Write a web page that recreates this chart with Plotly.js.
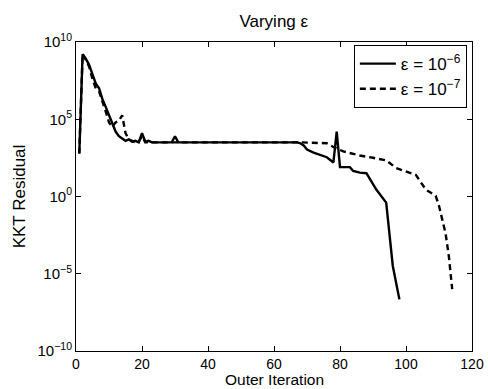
<!DOCTYPE html>
<html>
<head>
<meta charset="utf-8">
<script src="https://cdn.plot.ly/plotly-3.0.1.min.js"></script>
<style>html,body{margin:0;padding:0;background:#fff;}#chart{width:488px;height:389px;}</style>
</head>
<body>
<div id="chart"></div>
<script>
// Series: epsilon = 1e-6 (solid)
const iterA = [1, 2, 3, 4, 5, 6, 7, 8, 9, 10, 11, 12, 13, 14, 15, 16, 17, 18, 19, 20, 21, 22, 23, 24, 29, 30, 31, 67, 68, 69, 70, 72, 74, 76, 78, 79, 80, 83, 84, 86, 88, 91, 94, 96, 98];
const kktA = [6e2, 1.6e9, 8e8, 3.2e8, 8e7, 2e7, 1e7, 2e6, 6.3e5, 2e5, 5e4, 1.6e4, 8e3, 5.6e3, 4e3, 5e3, 3.5e3, 4e3, 3.2e3, 1.26e4, 3.5e3, 4e3, 3.2e3, 3.2e3, 3.2e3, 8e3, 3.2e3, 3.2e3, 2.8e3, 2e3, 1.1e3, 7e2, 5e2, 3.5e2, 1.6e2, 1.6e4, 80, 80, 45, 35, 32, 2.8, 0.4, 3.2e-5, 2.2e-7];

// Series: epsilon = 1e-7 (dashed)
const iterB = [1, 2, 3, 4, 5, 6, 7, 8, 9, 10, 11, 12, 13, 14, 15, 16, 17, 18, 19, 20, 21, 68, 76, 78, 81, 86, 90, 94, 97, 100, 103, 106, 109, 110, 112, 113, 114];
const kktB = [6e2, 1.6e9, 7e8, 2.5e8, 4e7, 1e7, 6.3e6, 1.6e6, 3.2e5, 6.3e4, 3.2e4, 6.3e4, 8e4, 1.8e5, 1.26e4, 5e3, 4e3, 3.2e3, 3.5e3, 8e3, 3.2e3, 3.2e3, 2.8e3, 1.6e3, 8.3e2, 4.5e2, 3.2e2, 2.2e2, 70, 40, 25, 2.8, 1.1, 0.25, 4e-3, 1.26e-4, 1e-6];

const seriesNames = ['\u03b5 = 10<sup>\u22126</sup>', '\u03b5 = 10<sup>\u22127</sup>'];
const xTicks = [0, 20, 40, 60, 80, 100, 120];
const yTickVals = [1e-10, 1e-5, 1, 1e5, 1e10];
const yTickText = ['10<sup>\u221210</sup>', '10<sup>\u22125</sup>', '10<sup>0</sup>', '10<sup>5</sup>', '10<sup>10</sup>'];
const xTitle = 'Outer Iteration';

const FONT = 'Liberation Sans, Arial, sans-serif';

const traces = [
  {x: iterA, y: kktA, mode: 'lines', name: seriesNames[0], legendgroup: 'a',
   line: {color: '#000', width: 2.4, dash: 'solid'}},
  {x: iterB, y: kktB, mode: 'lines', name: seriesNames[1], legendgroup: 'b',
   line: {color: '#000', width: 2.4, dash: '6px,4px'}}
];

const layout = {
  width: 488, height: 389,
  margin: {l: 76, r: 16, t: 42, b: 38},
  paper_bgcolor: '#fff', plot_bgcolor: '#fff',
  font: {family: FONT, size: 15, color: '#000'},
  title: {text: 'Varying \u03b5', font: {family: FONT, size: 17, color: '#000'}, x: 0.561, xanchor: 'center', y: 0.945, yanchor: 'middle'},
  showlegend: true,
  legend: {x: 0.987, y: 0.99, xanchor: 'right', yanchor: 'top', bgcolor: '#fff', bordercolor: '#000', borderwidth: 1,
           font: {family: FONT, size: 17, color: '#000'}, traceorder: 'grouped', tracegroupgap: 0, itemwidth: 36},
  xaxis: {
    range: [0, 120], tickmode: 'array', tickvals: xTicks,
    ticks: 'inside', ticklen: 5, tickwidth: 1, tickcolor: '#000',
    showline: true, linecolor: '#000', linewidth: 1, mirror: 'ticks',
    showgrid: false, zeroline: false,
    tickfont: {family: FONT, size: 14, color: '#000'}
  },
  yaxis: {
    type: 'log', range: [-10, 10], tickmode: 'array', tickvals: yTickVals, ticktext: yTickText,
    ticks: 'inside', ticklen: 5, tickwidth: 1, tickcolor: '#000',
    showline: true, linecolor: '#000', linewidth: 1, mirror: 'ticks',
    showgrid: false, zeroline: false,
    tickfont: {family: FONT, size: 15, color: '#000'},
    title: {text: 'KKT Residual', font: {family: FONT, size: 17, color: '#000'}, standoff: 7}
  },
  annotations: [{
    text: xTitle, xref: 'paper', yref: 'paper', x: 0.5, y: -0.1245,
    xanchor: 'center', yanchor: 'bottom', showarrow: false,
    font: {family: FONT, size: 15.5, color: '#000'}, borderpad: 0
  }]
};

Plotly.newPlot('chart', traces, layout, {displayModeBar: false, staticPlot: true});
</script>
</body>
</html>
